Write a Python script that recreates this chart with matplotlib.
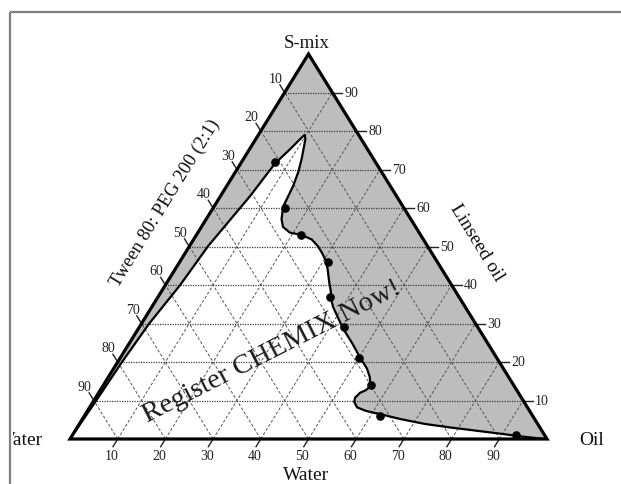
import matplotlib
matplotlib.use("Agg")
import matplotlib.pyplot as plt
import numpy as np
from matplotlib.patches import Polygon, Rectangle

# Titration end points on the phase boundary (% w/w)
pts_water = [21, 25, 25, 23, 27, 28, 29, 30, 32, 6]
pts_oil = [7, 15, 22, 31, 36, 43, 50, 56, 62, 93]
pts_smix = [72, 60, 53, 46, 37, 29, 21, 14, 6, 1]

# Boundary of the microemulsion (white) region, traced from the water corner
# up to the tip and down to the oil corner (% oil, % S-mix)
bnd_oil = [0.0, 0.5, 0.9, 1.6, 3.1, 3.9, 6.2, 7.2, 8.5, 9.3, 9.7,
           10.4, 11.3, 12.2, 13.2, 13.9, 14.2, 14.5, 15.8, 17.1, 19.3,
           22.1, 24.8, 26.9, 28.7, 30.5, 31.9, 34.0, 35.6, 36.4, 38.0,
           40.7, 42.8, 44.6, 46.7, 48.5, 49.9, 51.4, 53.1, 54.8, 56.1,
           55.7, 54.8, 54.4, 54.8, 56.1, 58.4, 61.6, 66.6, 72.5, 78.2,
           83.8, 89.4, 94.0, 99.5]
bnd_smix = [0.0, 9.9, 20.0, 29.9, 40.0, 50.1, 63.1, 71.6, 75.3, 77.9, 79.0,
            77.9, 75.3, 72.7, 69.3, 65.8, 63.2, 60.4, 57.1, 55.1, 53.6,
            53.0, 51.8, 50.1, 48.3, 46.3, 44.2, 40.7, 38.2, 36.6, 34.3,
            31.2, 28.8, 27.0, 24.9, 23.0, 21.5, 20.0, 18.3, 16.1, 13.7,
            12.7, 12.0, 10.7, 9.6, 8.2, 7.3, 6.5, 5.2, 3.9, 3.0,
            2.2, 1.4, 0.7, 0.0]

grid_ticks = [10, 20, 30, 40, 50, 60, 70, 80, 90]
grid_labels = [str(t) for t in grid_ticks]

W, H = 621, 485
SERIF = ["Liberation Serif", "DejaVu Serif"]
plt.rcParams["font.family"] = SERIF

fig = plt.figure(figsize=(W / 100, H / 100), dpi=100)
fig.patch.set_facecolor("white")

# pixel-space layer for frame and captions
bg = fig.add_axes([0, 0, 1, 1])
bg.set_xlim(0, W)
bg.set_ylim(H, 0)
bg.axis("off")

# ternary layer: x = oil + smix/2, y = smix (fractions)
TX0, TY0, TW, TH = 70, 440, 477, 385
ax = fig.add_axes([TX0 / W, (H - TY0) / H, TW / W, TH / H])
ax.set_xlim(0, 1)
ax.set_ylim(0, 1)
ax.axis("off")
px, py = 1.0 / TW, 1.0 / TH


def tern(oil, smix):
    oil = np.asarray(oil, dtype=float) / 100.0
    smix = np.asarray(smix, dtype=float) / 100.0
    return oil + smix / 2.0, smix


corners = [[0, 0], [1, 0], [0.5, 1]]
ax.add_patch(Polygon(corners, closed=True, fc="#bdbdbd", ec="none", zorder=1))
bx, by = tern(bnd_oil, bnd_smix)
ax.fill(bx, by, fc="white", ec="none", zorder=2)

hstyle = dict(color="#3a3a3a", lw=0.9, ls=(0, (1, 1)), zorder=3)
dstyle = dict(color="#555555", lw=0.7, ls=(0, (3, 2)), zorder=3)
tick_kw = dict(color="#222222", lw=1.0, zorder=4, clip_on=False)
lab_kw = dict(fontsize=10, color="#222222", ha="center", va="center", clip_on=False)
ux, uy = 0.5265, 0.850  # unit direction of the slanted grid lines (pixels)

for k, lab in zip(grid_ticks, grid_labels):
    # constant S-mix (horizontal), ticks on the right edge
    xl, yl = tern(0, k)
    xr, yr = tern(100 - k, k)
    ax.plot([xl, xr], [yl, yr], **hstyle)
    ax.plot([xr, xr + 10 * px], [yr, yr], **tick_kw)
    ax.text(xr + 12 * px, yr, lab, **{**lab_kw, "ha": "left"})
    # constant oil (parallel to the water/S-mix edge), ticks on the base
    xb, yb = tern(k, 0)
    xt, yt = tern(k, 100 - k)
    ax.plot([xb, xt], [yb, yt], **dstyle)
    ax.plot([xb, xb - 9 * ux * px], [0, -9 * uy * py], **tick_kw)
    ax.text(xb - 6 * px, -17 * py, lab, **lab_kw)
    # constant water (parallel to the oil/S-mix edge), ticks on the left edge
    xw, yw = tern(100 - k, 0)
    xe, ye = tern(0, 100 - k)
    ax.plot([xw, xe], [yw, ye], **dstyle)
    ax.plot([xe, xe - 9 * ux * px], [ye, ye + 9 * uy * py], **tick_kw)
    ax.text(xe - 9 * px, ye + 14 * py, lab, **lab_kw)

ax.add_patch(Polygon(corners, closed=True, fc="none", ec="black", lw=2.3,
                     joinstyle="miter", zorder=5, clip_on=False))
ax.plot(bx, by, color="black", lw=1.6, solid_joinstyle="round", zorder=6)
dx, dy = tern(pts_oil, pts_smix)
ax.plot(dx, dy, "o", color="black", ms=5.2, zorder=7, clip_on=False)

# frame
bg.plot([10, W], [13, 13], color="#808080", lw=1.6, solid_capstyle="butt")
bg.plot([10, 10], [13, H], color="#808080", lw=1.6, solid_capstyle="butt")

# captions
cap = dict(fontsize=14, color="#111111", ha="center", va="center")
bg.text(307, 44, "S-mix", **{**cap, "fontsize": 13.5})
bg.text(592, 441, "Oil", **cap)
bg.text(306, 476, "Water", **cap)
# the corner caption runs past the frame and is cut at its line
left = bg.text(43, 441, "Water", **{**cap, "ha": "right"})
left.set_clip_path(Rectangle((12.5, 0), W, H, transform=bg.transData))
left.set_clip_on(True)
bg.text(165, 203, "Tween 80: PEG 200 (2:1)", rotation=58.4,
        rotation_mode="anchor", **{**cap, "fontsize": 13.5})
bg.text(477, 243, "Linseed oil", rotation=-58.4, rotation_mode="anchor", **cap)
ax.text(272, 352, "Register CHEMIX Now!", transform=bg.transData,
        fontsize=20.5, color="#1a1a1a", rotation=27, rotation_mode="anchor",
        ha="center", va="center", zorder=10, clip_on=False)

fig.savefig("out.png", dpi=100)
